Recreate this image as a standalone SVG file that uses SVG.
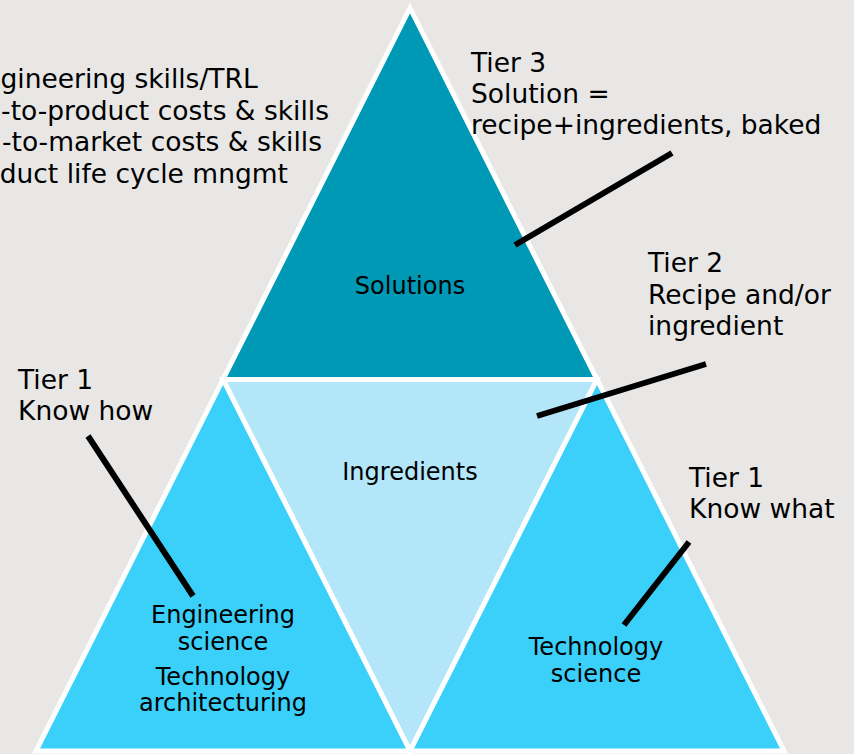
<svg xmlns="http://www.w3.org/2000/svg" width="854" height="754" viewBox="0 0 854 754">
  <style>
    .tri { stroke: #FFFFFF; stroke-width: 5; stroke-linejoin: miter; }
    .top { fill: #0099B5; }
    .mid { fill: #B3E6F8; }
    .side { fill: #3AD0FA; }
    .lbl { font-family: "DejaVu Sans", Verdana, sans-serif; font-size: 26.5px; fill: #000000; }
    .node { font-family: "DejaVu Sans", Verdana, sans-serif; font-size: 24px; fill: #000000; text-anchor: middle; }
    .conn line { stroke: #000000; stroke-width: 6; stroke-linecap: butt; }
  </style>
  <rect x="0" y="0" width="854" height="754" fill="#E8E7E5"/>

  <g id="solutions">
    <polygon class="tri top" points="410,8 223,379.5 597,379.5"/>
    <text class="node" x="410" y="294">Solutions</text>
  </g>
  <g id="ingredients">
    <polygon class="tri mid" points="223,379.5 597,379.5 410,751"/>
    <text class="node" x="410" y="480">Ingredients</text>
  </g>
  <g id="engineering">
    <polygon class="tri side" points="223,379.5 36,751 410,751"/>
    <text class="node" x="223" y="623">Engineering</text>
    <text class="node" x="223" y="650">science</text>
    <text class="node" x="223" y="685">Technology</text>
    <text class="node" x="223" y="711">architecturing</text>
  </g>
  <g id="technology">
    <polygon class="tri side" points="597,379.5 410,751 784,751"/>
    <text class="node" x="596" y="655">Technology</text>
    <text class="node" x="596" y="682">science</text>
  </g>

  <g id="connectors" class="conn">
    <line x1="672" y1="153" x2="515" y2="245"/>
    <line x1="706" y1="364" x2="537" y2="416"/>
    <line x1="88" y1="436" x2="193" y2="596"/>
    <line x1="689" y1="542" x2="624" y2="625"/>
  </g>

  <g id="notes-left">
    <text class="lbl" x="0.5" y="88">gineering skills/TRL</text>
    <text class="lbl" x="329" y="119.5" text-anchor="end">-to-product costs &amp; skills</text>
    <text class="lbl" x="322" y="151" text-anchor="end">-to-market costs &amp; skills</text>
    <text class="lbl" x="288" y="182.5" text-anchor="end">duct life cycle mngmt</text>
  </g>
  <g id="tier3">
    <text class="lbl" x="471" y="72">Tier 3</text>
    <text class="lbl" x="471" y="103">Solution =</text>
    <text class="lbl" x="471" y="134">recipe+ingredients, baked</text>
  </g>
  <g id="tier2">
    <text class="lbl" x="648" y="272">Tier 2</text>
    <text class="lbl" x="648" y="303.5">Recipe and/or</text>
    <text class="lbl" x="648" y="335">ingredient</text>
  </g>
  <g id="tier1-how">
    <text class="lbl" x="18" y="389">Tier 1</text>
    <text class="lbl" x="18" y="420">Know how</text>
  </g>
  <g id="tier1-what">
    <text class="lbl" x="689" y="487">Tier 1</text>
    <text class="lbl" x="689" y="518">Know what</text>
  </g>
</svg>
